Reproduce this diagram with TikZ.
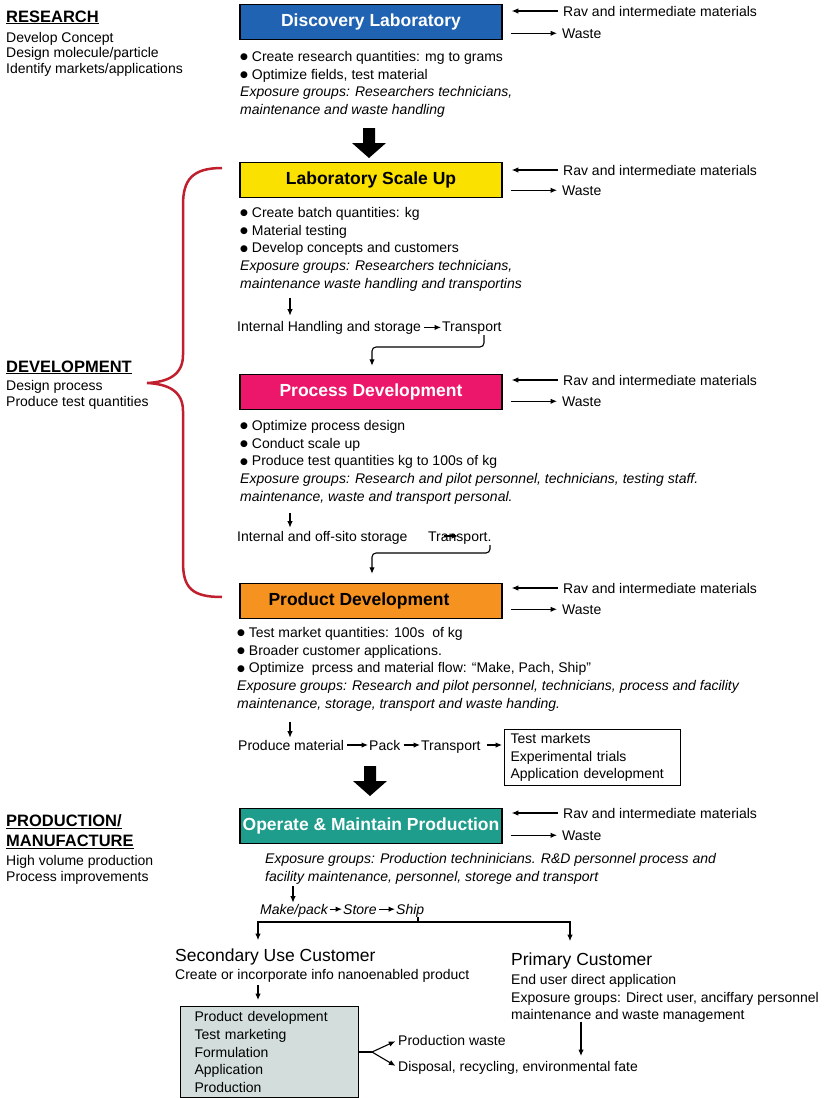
\documentclass[tikz,border=0pt]{standalone}
\usepackage{fontspec}
\setmainfont{Liberation Sans}
\newfontfamily\symfont{DejaVu Sans}
\usepackage{tikz}
\usetikzlibrary{shapes,arrows,arrows.meta}
\usetikzlibrary{positioning}
\tikzstyle{line} = [draw, line width=1.1pt, -{Latex[length=6.5pt,width=5.5pt]}]
\newcommand{\blt}{\raisebox{1.5pt}{\symfont\fontsize{9}{9}\selectfont ●}}
\definecolor{discblue}{RGB}{31,99,178}
\definecolor{scaleyellow}{RGB}{250,225,0}
\definecolor{procpink}{RGB}{236,22,107}
\definecolor{prodorange}{RGB}{245,146,32}
\definecolor{opteal}{RGB}{30,156,140}
\definecolor{bracered}{RGB}{192,32,45}
\definecolor{custgray}{RGB}{211,222,220}

\begin{document}
\begin{tikzpicture}[x=1pt, y=-1pt,
	stage/.style={draw, line width=1.5pt, rectangle, minimum width=262pt,
		minimum height=35pt, inner sep=0pt, font=\bfseries\fontsize{17.5}{20}\selectfont},
	txt/.style={inner sep=0pt, align=left, font=\fontsize{14}{17.7}\selectfont},
	itxt/.style={inner sep=0pt, align=left, font=\itshape\fontsize{14}{17.7}\selectfont},
	head/.style={inner sep=0pt, align=left, font=\bfseries\fontsize{16.5}{20}\selectfont},
	cust/.style={inner sep=0pt, font=\fontsize{17.5}{20}\selectfont}]
	\useasboundingbox (0,0) rectangle (828,1098);
	%% Phases
	\node [head, anchor=base west] at (6,22) (research) {\underline{RESEARCH}};
	\node [txt, anchor=north west, font=\fontsize{14}{15.5}\selectfont] at (6,32) (researchtxt) {Develop Concept\\Design molecule/particle\\Identify markets/applications};
	\node [head, anchor=base west] at (6,372) (develop) {\underline{DEVELOPMENT}};
	\node [txt, anchor=north west, font=\fontsize{14}{16.5}\selectfont] at (6,380) (developtxt) {Design process\\Produce test quantities};
	\node [head, anchor=north west] at (6,814) (production) {\underline{PRODUCTION/}\\\underline{MANUFACTURE}};
	\node [txt, anchor=north west, font=\fontsize{14}{16}\selectfont] at (6,855) (productiontxt) {High volume production\\Process improvements};
	\draw [bracered, line width=2.5pt] (222,168) .. controls (192,168) and (183,180) .. (183,205) -- (183,355)
		.. controls (183,375) and (168,382) .. (147,383) .. controls (168,384) and (183,391) .. (183,411)
		-- (183,562) .. controls (183,588) and (192,597) .. (222,597);
	%% Stages
	\node [stage, fill=discblue, text=white] at (371,22) (disc) {Discovery Laboratory};
	\node [stage, fill=scaleyellow] at (371,180) (scale) {Laboratory Scale Up};
	\node [stage, fill=procpink, text=white] at (371,392) (proc) {Process Development};
	\node [stage, fill=prodorange] at (371,601) (prod) {\hspace*{-24pt}Product Development};
	\node [stage, fill=opteal, text=white] at (371,826) (oper) {Operate \& Maintain Production};
	%% Inputs and outputs
	\node [txt, anchor=base west] at (563,16) (rav1) {Rav and intermediate materials};
	\node [txt, anchor=base west] at (562,38) (waste1) {Waste};
	\node [txt, anchor=base west] at (563,175) (rav2) {Rav and intermediate materials};
	\node [txt, anchor=base west] at (562,195) (waste2) {Waste};
	\node [txt, anchor=base west] at (563,385) (rav3) {Rav and intermediate materials};
	\node [txt, anchor=base west] at (562,406) (waste3) {Waste};
	\node [txt, anchor=base west] at (563,593) (rav4) {Rav and intermediate materials};
	\node [txt, anchor=base west] at (562,614) (waste4) {Waste};
	\node [txt, anchor=base west] at (563,818) (rav5) {Rav and intermediate materials};
	\node [txt, anchor=base west] at (562,840) (waste5) {Waste};
	\path [line, shorten <=5pt, shorten >=9pt] (rav1.west) -- (rav1.west -| disc.east);
	\path [line, shorten <=8pt, shorten >=5pt] (waste1.west -| disc.east) -- (waste1.west);
	\path [line, shorten <=5pt, shorten >=9pt] (rav2.west) -- (rav2.west -| scale.east);
	\path [line, shorten <=8pt, shorten >=5pt] (waste2.west -| scale.east) -- (waste2.west);
	\path [line, shorten <=5pt, shorten >=9pt] (rav3.west) -- (rav3.west -| proc.east);
	\path [line, shorten <=8pt, shorten >=5pt] (waste3.west -| proc.east) -- (waste3.west);
	\path [line, shorten <=5pt, shorten >=9pt] (rav4.west) -- (rav4.west -| prod.east);
	\path [line, shorten <=8pt, shorten >=5pt] (waste4.west -| prod.east) -- (waste4.west);
	\path [line, shorten <=5pt, shorten >=9pt] (rav5.west) -- (rav5.west -| oper.east);
	\path [line, shorten <=8pt, shorten >=5pt] (waste5.west -| oper.east) -- (waste5.west);
	%% Stage details
	\node [txt, anchor=north west] at (240,51) (disctxt) {\blt\ Create research quantities: mg to grams\\\blt\ Optimize fields, test material\\\textit{Exposure groups: Researchers technicians,}\\\textit{maintenance and waste handling}};
	\node [txt, anchor=north west] at (240,207) (scaletxt) {\blt\ Create batch quantities: kg\\\blt\ Material testing\\\blt\ Develop concepts and customers\\\textit{Exposure groups: Researchers technicians,}\\\textit{maintenance waste handling and transportins}};
	\node [txt, anchor=north west] at (240,420) (proctxt) {\blt\ Optimize process design\\\blt\ Conduct scale up\\\blt\ Produce test quantities kg to 100s of kg\\\textit{Exposure groups: Research and pilot personnel, technicians, testing staff.}\\\textit{maintenance, waste and transport personal.}};
	\node [txt, anchor=north west] at (237,627) (prodtxt) {\blt\ Test market quantities: 100s\ \ of kg\\\blt\ Broader customer applications.\\\blt\ Optimize\ \ prcess and material flow: “Make, Pach, Ship”\\\textit{Exposure groups: Research and pilot personnel, technicians, process and facility}\\\textit{maintenance, storage, transport and waste handing.}};
	\node [itxt, anchor=north west] at (265,853) (opertxt) {Exposure groups: Production techninicians. R\&D personnel process and\\facility maintenance, personnel, storege and transport};
	%% Big arrows
	\fill (363,128) -- (375,128) -- (375,143) -- (386,143) -- (369,158) -- (352,143) -- (363,143) -- cycle;
	\fill (364,766) -- (376,766) -- (376,781) -- (387,781) -- (370,796) -- (353,781) -- (364,781) -- cycle;
	%% Handling after scale up
	\coordinate (s2) at (290,298);
	\node [txt, anchor=base west] at (237,331) (handle) {Internal Handling and storage};
	\node [txt, anchor=base west] at (442,331) (trans1) {Transport};
	\path [line, shorten >=5pt] (s2) -- (s2 |- handle.north);
	\path [line, shorten <=3pt, shorten >=1pt] (handle.east) -- (handle.east -| trans1.west);
	\coordinate (c1) at (484,335);
	\coordinate (c2) at (372,347);
	\path [line, rounded corners=4pt, shorten >=8pt] (c1) |- (c2) -- (c2 |- proc.north);
	%% Handling after process development
	\coordinate (s3) at (290,513);
	\node [txt, anchor=base west] at (237,541) (store2) {Internal and off-sito storage};
	\node [txt, anchor=base west] at (428,541) (trans2) {Transport.};
	\path [line, shorten >=3pt] (s3) -- (s3 |- store2.north);
	\coordinate (m3) at (444,536);
	\path [line] (m3) -- ++(14,0);
	\coordinate (c3) at (490,545);
	\coordinate (c4) at (372,553);
	\path [line, rounded corners=4pt, shorten >=9pt] (c3) |- (c4) -- (c4 |- prod.north);
	%% Test market flow
	\coordinate (s4) at (290,722);
	\node [txt, anchor=base west] at (238,750) (make) {Produce material};
	\node [txt, anchor=base west] at (369,750) (pack) {Pack};
	\node [txt, anchor=base west] at (421,750) (trans3) {Transport};
	\node [txt, draw, line width=1pt, anchor=north west, text width=164pt, inner xsep=6pt, inner ysep=3pt, minimum height=56pt] at (504,729) (market) {Test markets\\Experimental trials\\Application development};
	\path [line, shorten >=2pt] (s4) -- (s4 |- make.north);
	\path [line, shorten <=3pt, shorten >=1pt] (make.east) -- (make.east -| pack.west);
	\path [line, shorten <=3pt, shorten >=1pt] (pack.east) -- (pack.east -| trans3.west);
	\path [line, shorten <=6pt, shorten >=2pt] (pack.east -| trans3.east) -- (pack.east -| market.west);
	%% Production flow
	\coordinate (s5) at (293,886);
	\node [itxt, anchor=base west] at (260,914) (makepack) {Make/pack};
	\node [itxt, anchor=base west] at (343,914) (store) {Store};
	\node [itxt, anchor=base west] at (396,914) (ship) {Ship};
	\path [line, shorten >=1pt] (s5) -- (s5 |- makepack.north);
	\path [line, shorten <=2pt, shorten >=1pt] (store.west -| makepack.east) -- (store.west);
	\path [line, shorten <=2pt, shorten >=1pt] (store.east) -- (store.east -| ship.west);
	\coordinate (b0) at (418,922);
	\coordinate (bl) at (258,922);
	\coordinate (br) at (570,922);
	\draw [line width=1.1pt] (ship.south -| b0) -- (b0);
	%% Customers
	\node [cust, anchor=base west] at (175,961) (second) {Secondary Use Customer};
	\node [txt, anchor=base west] at (175,979) (secondtxt) {Create or incorporate info nanoenabled product};
	\node [cust, anchor=base west] at (511,965) (primary) {Primary Customer};
	\node [txt, anchor=north west] at (511,974) (primarytxt) {End user direct application\\Exposure groups: Direct user, anciffary personnel\\maintenance and waste management};
	\path [line, shorten >=8pt] (b0) -- (bl) -- (bl |- second.north);
	\path [line, shorten >=11pt] (b0) -- (br) -- (br |- primary.north);
	\node [txt, draw, line width=1.2pt, fill=custgray, anchor=north west, text width=150pt, inner xsep=14pt, inner ysep=3pt, minimum height=91pt] at (180,1006) (tasks) {Product development\\Test marketing\\Formulation\\Application\\Production};
	\coordinate (s6) at (258,985);
	\path [line, shorten >=6pt] (s6) -- (s6 |- tasks.north);
	\node [txt, anchor=base west] at (398,1045) (pwaste) {Production waste};
	\node [txt, anchor=base west] at (398,1071) (fate) {Disposal, recycling, environmental fate};
	\coordinate (fk) at (372,1052);
	\draw [line width=1.1pt] (tasks.east |- fk) -- (fk);
	\path [line, shorten >=3pt] (fk) -- (pwaste.west);
	\path [line, shorten >=3pt] (fk) -- (fate.west);
	\coordinate (s7) at (581,1022);
	\coordinate (e7) at (581,1056);
	\path [line] (s7) -- (e7);
\end{tikzpicture}
\end{document}
